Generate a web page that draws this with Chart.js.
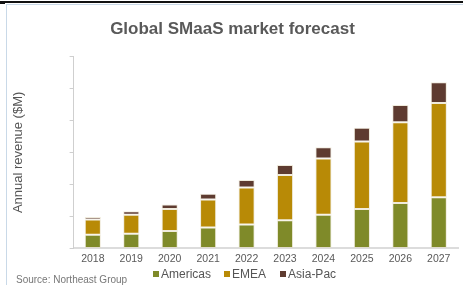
<!DOCTYPE html>
<html>
<head>
<meta charset="utf-8">
<script src="https://cdn.jsdelivr.net/npm/chart.js@4"></script>
<style>
  html, body { margin: 0; padding: 0; background: #fff; }
  #wrap { position: relative; width: 463px; height: 285px; overflow: hidden; font-family: "Liberation Sans", Arial, sans-serif; }
  #c { position: absolute; left: 0; top: 0; }
  .line { position: absolute; }
  #legend { position: absolute; left: 153px; top: 266px; height: 16px; display: flex; align-items: center; font-size: 12px; color: #555; white-space: nowrap; }
  #legend .item { display: flex; align-items: center; }
  #legend .box { width: 6px; height: 6px; margin-right: 2px; }
  #source { position: absolute; left: 16px; top: 274px; font-size: 10px; color: #777; white-space: nowrap; }
</style>
</head>
<body>
<div id="wrap">
  <canvas id="c" width="463" height="285"></canvas>
  <div class="line" style="left:0;top:1px;width:463px;height:1.5px;background:#111;"></div>
  <div class="line" style="left:0;top:1px;width:5px;height:3px;background:#111;"></div>
  <div class="line" style="left:6px;top:4px;width:457px;height:1px;background:#c9d9e8;"></div>
  <div class="line" style="left:6px;top:4px;width:1px;height:281px;background:#c9d9e8;"></div>
  <div id="legend"></div>
  <div id="source">Source: Northeast Group</div>
</div>
<script>
const categories = ["2018","2019","2020","2021","2022","2023","2024","2025","2026","2027"];
const americas = [43, 46, 54, 65, 75, 88, 105, 123, 142, 160];
const emea     = [47, 59, 69, 88, 115, 141, 176, 211, 252, 294];
const asiaPac  = [8, 11, 14, 18, 24, 32, 35, 43, 54, 65];
const seriesNames = ["Americas", "EMEA", "Asia-Pac"];
const seriesColors = ["#7f8a29", "#b88a06", "#5e3b30"];
const yMax = 600, yStep = 100;

const values = [americas, emea, asiaPac];
const datasets = values.map((v, i) => ({
  label: seriesNames[i],
  data: v,
  backgroundColor: seriesColors[i],
  borderColor: "rgba(225,215,185,0.5)",
  borderWidth: 1,
  borderSkipped: false,
  barPercentage: 0.42,
  categoryPercentage: 1.0
}));

new Chart(document.getElementById("c"), {
  type: "bar",
  data: { labels: categories, datasets },
  options: {
    responsive: false,
    animation: false,
    devicePixelRatio: 1,
    layout: { padding: { left: 7, right: 5, top: 0, bottom: 16 } },
    plugins: {
      legend: { display: false },
      tooltip: { enabled: false },
      title: {
        display: true,
        text: "Global SMaaS market forecast",
        color: "#595959",
        font: { family: "'Liberation Sans', Arial, sans-serif", size: 17, weight: "bold" },
        padding: { top: 19, bottom: 17 }
      }
    },
    scales: {
      x: {
        stacked: true,
        grid: { display: false, drawTicks: false },
        border: { display: true, color: "#dcdcdc", width: 2 },
        ticks: { color: "#595959", padding: 4, font: { family: "'Liberation Sans', Arial, sans-serif", size: 10.5 } }
      },
      y: {
        stacked: true,
        min: 0,
        max: yMax,
        ticks: { display: false, stepSize: yStep },
        grid: { drawOnChartArea: false, drawTicks: true, tickLength: 4, color: "#cfcfcf" },
        border: { display: true, color: "#cfcfcf", width: 1 },
        title: {
          display: true,
          text: "Annual revenue ($M)",
          color: "#555",
          font: { family: "'Liberation Sans', Arial, sans-serif", size: 13 },
          padding: { top: 4, bottom: 43 }
        }
      }
    }
  }
});

const legend = document.getElementById("legend");
const gaps = [0, 13, 14];
seriesNames.forEach((n, i) => {
  const it = document.createElement("span");
  it.className = "item";
  it.style.marginLeft = gaps[i] + "px";
  const b = document.createElement("span");
  b.className = "box";
  b.style.background = seriesColors[i];
  const t = document.createElement("span");
  t.textContent = n;
  it.appendChild(b); it.appendChild(t);
  legend.appendChild(it);
});
</script>
</body>
</html>
